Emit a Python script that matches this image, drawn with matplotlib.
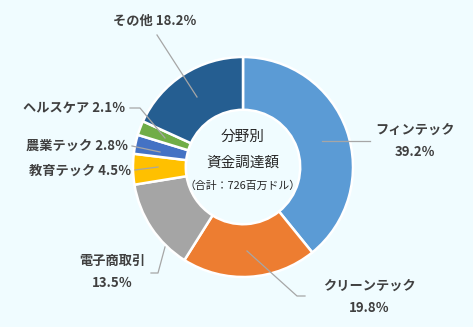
import matplotlib
matplotlib.use("Agg")
import matplotlib.pyplot as plt

plt.rcParams['font.family'] = ['Noto Sans CJK JP', 'DejaVu Sans']

categories = ["フィンテック", "クリーンテック", "電子商取引", "教育テック", "農業テック", "ヘルスケア", "その他"]
values = [39.2, 19.8, 13.5, 4.5, 2.8, 2.1, 18.2]
colors = ["#5B9BD5", "#ED7D31", "#A5A5A5", "#FFC000", "#4472C4", "#70AD47", "#255E91"]
label_texts = ["フィンテック\n39.2％", "クリーンテック\n19.8％", "電子商取引\n13.5％",
               "教育テック 4.5％", "農業テック 2.8％", "ヘルスケア 2.1％", "その他 18.2％"]
center_title = ["分野別", "資金調達額"]
center_note = "（合計：726百万ドル）"

W, H = 473, 327
fig = plt.figure(figsize=(W / 100, H / 100), dpi=100)
fig.patch.set_facecolor("#F0FCFF")
ax = fig.add_axes([0, 0, 1, 1])
ax.set_facecolor("#F0FCFF")

cx, cy = 243, H - 167
R = 110
ax.pie(values, colors=colors, startangle=90, counterclock=False,
       center=(cx, cy), radius=R,
       wedgeprops=dict(width=R * 0.48, edgecolor="white", linewidth=1.8))
ax.set_xlim(0, W)
ax.set_ylim(0, H)
ax.set_aspect("equal")
ax.axis("off")

def P(x, y):
    return (x, H - y)

tc = "#404040"
lc = "#A6A6A6"
fs = 9.5

# leader lines (pixel paths)
leaders = [
    [(322, 141), (370, 141)],
    [(247, 251), (297, 296), (305, 296)],
    [(165, 247), (158, 273), (151, 273)],
    [(158, 167), (135, 170)],
    [(160, 152), (132, 146)],
    [(165, 138), (140, 108), (130, 108)],
    [(197, 97), (157, 35)],
]
for pts in leaders:
    xs = [p[0] for p in pts]
    ys = [H - p[1] for p in pts]
    ax.plot(xs, ys, color=lc, lw=0.9, zorder=5)

# label positions (pixel) and alignment
lab_pos = [
    ((415, 141), "center"),
    ((369, 297), "center"),
    ((112, 272), "center"),
    ((131, 171), "right"),
    ((128, 146), "right"),
    ((125, 108), "right"),
    ((155, 21), "center"),
]
for txt, ((x, y), ha) in zip(label_texts, lab_pos):
    ax.text(*P(x, y), txt, ha=ha, va="center", fontsize=fs, color=tc,
            fontweight="bold", linespacing=1.75)

ax.text(*P(243, 137), center_title[0], ha="center", va="center", fontsize=10.5, color="#262626")
ax.text(*P(243, 163), center_title[1], ha="center", va="center", fontsize=10.5, color="#262626")
ax.text(*P(243, 186), center_note, ha="center", va="center", fontsize=7.8, color="#262626")

fig.savefig("out.png", dpi=100, facecolor=fig.get_facecolor())
